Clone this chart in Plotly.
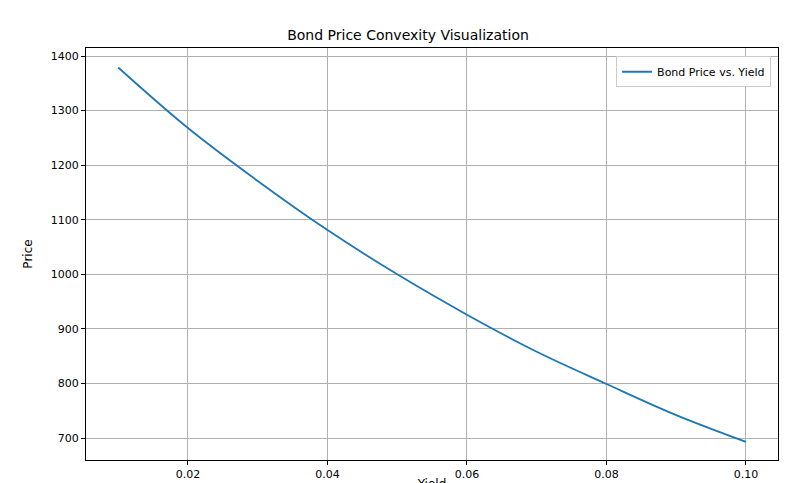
import plotly.graph_objects as go

yields = [0.01, 0.02, 0.03, 0.04, 0.05, 0.06, 0.07, 0.08, 0.09, 0.10]
prices = [1379, 1268, 1171, 1081, 1000, 926, 858, 799, 742, 693]

fig = go.Figure(go.Scatter(x=yields, y=prices, mode="lines", name="Bond Price vs. Yield",
                           line=dict(color="#1f77b4", width=1.8, shape="spline")))
ax = dict(showline=True, linecolor="black", mirror=True, gridcolor="#b0b0b0", gridwidth=1,
          ticks="outside", ticklen=4, tickcolor="black", zeroline=False, automargin=False,
          tickfont=dict(size=11, color="black"))
fig.update_layout(
    width=800, height=483, autosize=False, paper_bgcolor="white", plot_bgcolor="white",
    margin=dict(l=78, r=30, t=40, b=31),
    font=dict(family="DejaVu Sans", color="black"),
    title=dict(text="Bond Price Convexity Visualization", x=0.5, xanchor="center", y=0.955, font=dict(size=14)),
    xaxis=dict(**ax, range=[0.00538, 0.10459], tickvals=[0.02, 0.04, 0.06, 0.08, 0.10],
               ticktext=["0.02", "0.04", "0.06", "0.08", "0.10"],
               title=dict(text="Yield", font=dict(size=12), standoff=6)),
    yaxis=dict(**ax, range=[659.7, 1414.7], dtick=100, title=dict(text="Price", font=dict(size=12))),
    showlegend=True,
    legend=dict(x=0.99, y=0.98, xanchor="right", yanchor="top", bordercolor="#cccccc", borderwidth=1,
                bgcolor="white", font=dict(size=11)),
)
fig.write_html("out.html")
